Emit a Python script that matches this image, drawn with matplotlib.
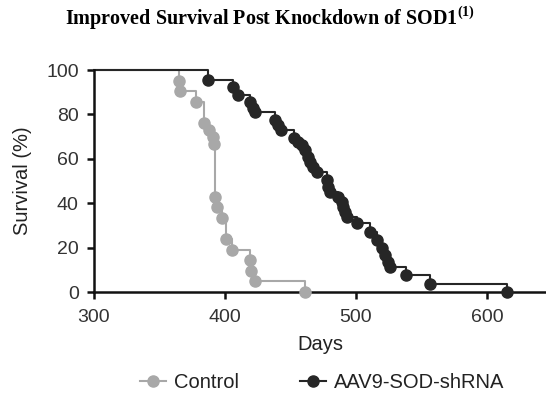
import matplotlib
matplotlib.use("Agg")
import matplotlib.pyplot as plt

# Control group: start level, then (day, survival after event)
ctrl_days = [300, 365, 366, 378, 384, 388, 391, 392, 392.5, 394, 397.5, 401, 405, 419, 420, 423, 461]
ctrl_surv = [100, 95.2, 90.5, 85.7, 76.2, 73.0, 70.0, 66.7, 42.9, 38.1, 33.3, 23.8, 19.0, 14.3, 9.5, 4.8, 0]

# AAV9-SOD-shRNA group
aav_days = [300, 387, 406, 410, 419, 421.5, 423, 438, 440.5, 443, 453, 456, 458.5, 461, 463.5,
            465, 467.5, 470, 477.5, 479, 480, 486.5, 489, 490, 491.5, 493, 500.5, 510.5,
            516, 519.5, 522, 524.5, 526, 538.5, 556.5, 615]
aav_surv = [100, 95.5, 92.5, 88.7, 85.7, 82.7, 81.2, 77.5, 75.2, 73.0, 69.2, 67.7, 66.2, 64.0, 61.0,
            58.7, 56.4, 54.2, 50.5, 47.4, 45.2, 42.9, 40.7, 38.4, 36.2, 33.9, 30.9, 27.2,
            23.4, 19.7, 16.7, 13.6, 11.4, 7.7, 3.6, 0]

plt.rcParams["font.family"] = ["Liberation Sans", "DejaVu Sans"]
plt.rcParams["mathtext.fontset"] = "custom"
plt.rcParams["mathtext.rm"] = "Liberation Serif"
plt.rcParams["mathtext.bf"] = "Liberation Serif:bold"

fig = plt.figure(figsize=(5.46, 4.05), dpi=100)
ax = fig.add_axes([0.172, 0.279, 0.828, 0.548])

gray = "#a8a8a8"
dark = "#262626"

ax.step(ctrl_days, ctrl_surv, where="post", color=gray, lw=1.5, zorder=2, clip_on=False)
ax.plot(ctrl_days[1:], ctrl_surv[1:], "o", color=gray, ms=8, zorder=3, clip_on=False)
ax.step(aav_days, aav_surv, where="post", color=dark, lw=1.5, zorder=2, clip_on=False)
ax.plot(aav_days[1:], aav_surv[1:], "o", color=dark, ms=8, zorder=4, clip_on=False)

ax.set_xlim(300, 645)
ax.set_ylim(0, 100)
ax.set_xticks([300, 400, 500, 600])
ax.set_yticks([0, 20, 40, 60, 80, 100])
for s in ["top", "right"]:
    ax.spines[s].set_visible(False)
for s in ["left", "bottom"]:
    ax.spines[s].set_linewidth(1.8)
    ax.spines[s].set_color("#111111")
ax.tick_params(width=1.8, length=5, labelsize=14, colors="#111111", labelcolor="#333333")
ax.tick_params(axis="x", pad=7)
ax.tick_params(axis="y", pad=6)

ax.set_xlabel("Days", fontsize=14.5, labelpad=7, color="#222222")
ax.set_ylabel("Survival (%)", fontsize=14.5, labelpad=10, color="#222222")

fig.text(0.495, 0.955, r"Improved Survival Post Knockdown of SOD1$^{\mathbf{(1)}}$",
         ha="center", va="center", fontsize=14.5, fontweight="bold",
         family=["Liberation Serif", "DejaVu Serif"])

h1, = ax.plot([], [], "-o", color=gray, ms=8, lw=1.5)
h2, = ax.plot([], [], "-o", color=dark, ms=8, lw=1.5)
fig.legend([h1, h2], ["Control", "AAV9-SOD-shRNA"], loc="center", bbox_to_anchor=(0.59, 0.055),
           ncol=2, frameon=False, fontsize=14.5, handlelength=1.3, columnspacing=3.0,
           handletextpad=0.4, labelcolor="#222222")

fig.savefig("out.png", dpi=100)
